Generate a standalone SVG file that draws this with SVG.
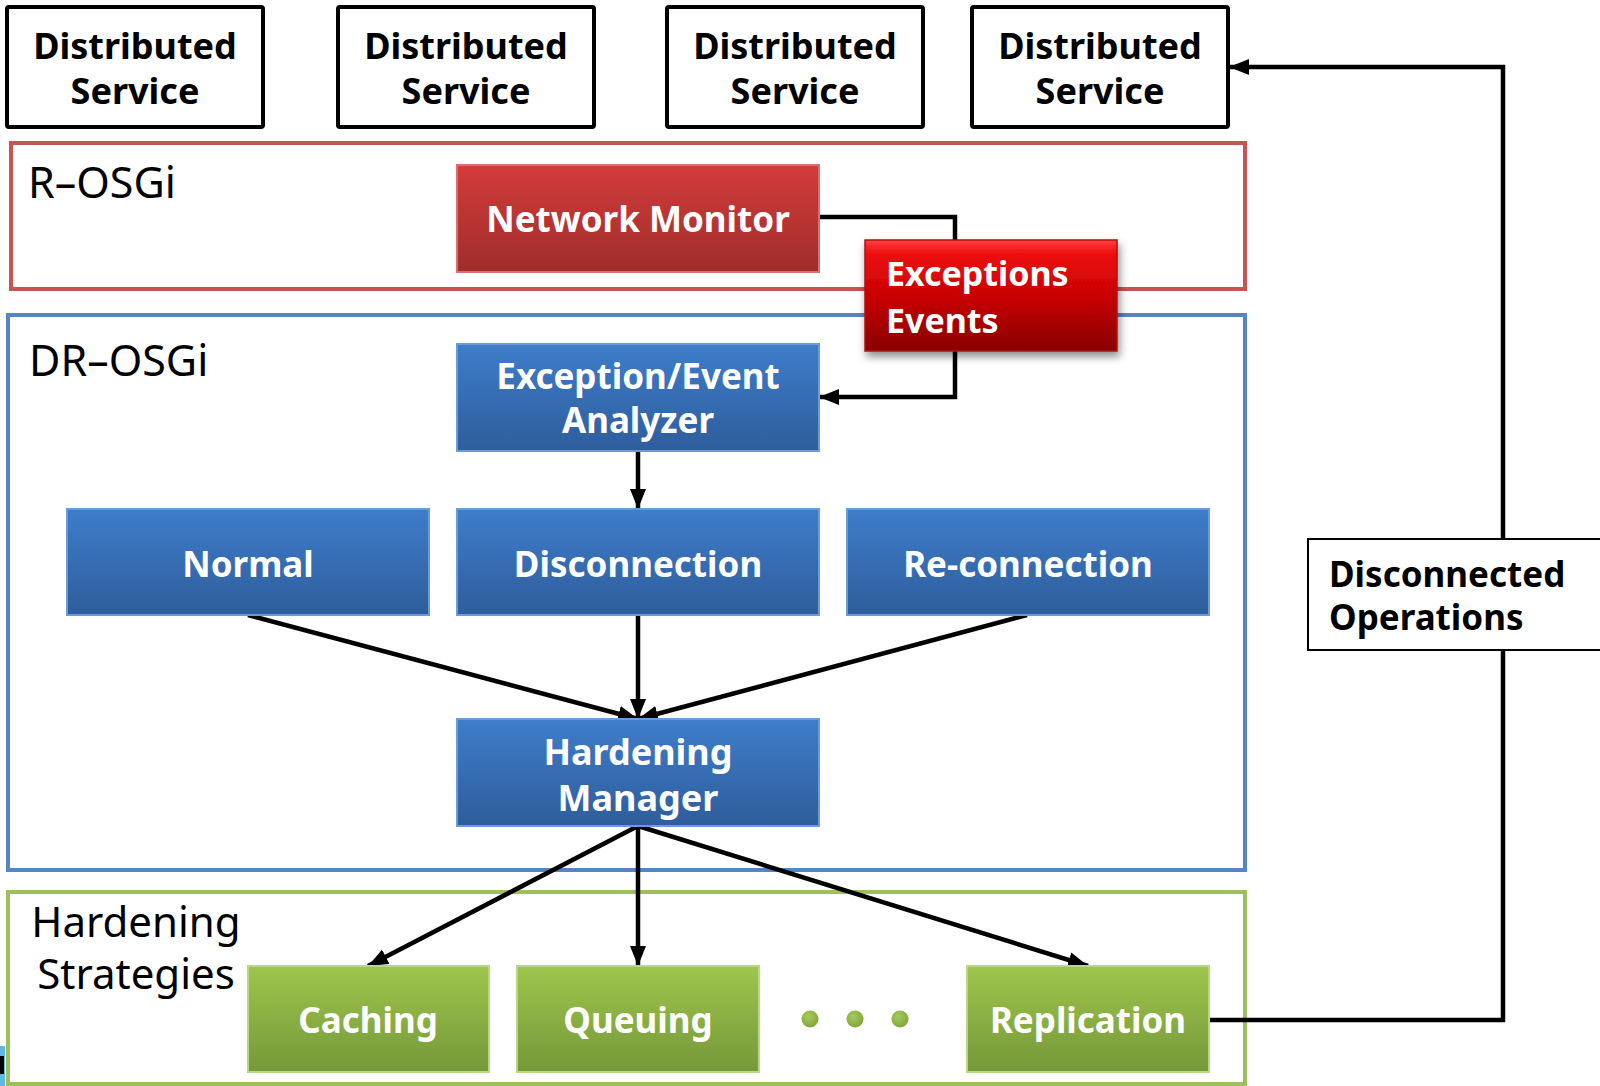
<svg xmlns="http://www.w3.org/2000/svg" width="1600" height="1086" viewBox="0 0 1600 1086">
  <defs>
    <linearGradient id="gBlue" x1="0" y1="0" x2="0" y2="1">
      <stop offset="0" stop-color="#3e7dcb"/>
      <stop offset="1" stop-color="#2e5d9b"/>
    </linearGradient>
    <linearGradient id="gRed" x1="0" y1="0" x2="0" y2="1">
      <stop offset="0" stop-color="#d33c3a"/>
      <stop offset="1" stop-color="#9f2d2b"/>
    </linearGradient>
    <linearGradient id="gExc" x1="0" y1="0" x2="0" y2="1">
      <stop offset="0" stop-color="#ff4040"/>
      <stop offset="0.12" stop-color="#ee0f0f"/>
      <stop offset="0.55" stop-color="#c40000"/>
      <stop offset="1" stop-color="#880000"/>
    </linearGradient>
    <linearGradient id="gGreen" x1="0" y1="0" x2="0" y2="1">
      <stop offset="0" stop-color="#9ec54b"/>
      <stop offset="1" stop-color="#76983a"/>
    </linearGradient>
    <radialGradient id="gDot" cx="0.4" cy="0.35" r="0.7">
      <stop offset="0" stop-color="#a6cb5c"/>
      <stop offset="1" stop-color="#7ea33a"/>
    </radialGradient>
    <filter id="shadow" x="-10%" y="-10%" width="130%" height="140%">
      <feDropShadow dx="2" dy="5" stdDeviation="4" flood-color="#000" flood-opacity="0.45"/>
    </filter>
    <marker id="arrow" viewBox="0 0 20 16" refX="20" refY="8" markerWidth="20" markerHeight="16" markerUnits="userSpaceOnUse" orient="auto">
      <path d="M0,0 L20,8 L0,16 z" fill="#000"/>
    </marker>
  </defs>
  <style>
    .svc { fill: #fff; stroke: #000; stroke-width: 4; }
    .svcTxt { font-family: "Noto Sans", "Liberation Sans", sans-serif; font-weight: 700; font-size: 36px; fill: #000; text-anchor: middle; }
    .layer { fill: #fff; stroke-width: 4; }
    .layerTxt { font-family: "Noto Sans", "Liberation Sans", sans-serif; font-size: 43px; fill: #000; }
    .layerMid { font-family: "Noto Sans", "Liberation Sans", sans-serif; font-size: 42px; fill: #000; text-anchor: middle; }
    .blue { fill: url(#gBlue); stroke: #6b9bd8; stroke-width: 2; }
    .green { fill: url(#gGreen); stroke: #b9d886; stroke-width: 2; }
    .nodeTxt { font-family: "Noto Sans", "Liberation Sans", sans-serif; font-weight: 700; font-size: 35px; fill: #fff; text-anchor: middle; }
    .excTxt { font-family: "Noto Sans", "Liberation Sans", sans-serif; font-weight: 700; font-size: 34px; fill: #fff; text-anchor: start; }
    .conn { fill: none; stroke: #000; stroke-width: 4.5; stroke-linejoin: miter; }
    .ops { fill: #fff; stroke: #000; stroke-width: 2; }
    .opsTxt { font-family: "Noto Sans", "Liberation Sans", sans-serif; font-weight: 700; font-size: 35px; fill: #000; }
  </style>

  <rect width="1600" height="1086" fill="#fff"/>

  <!-- layer containers -->
  <g id="r-osgi">
    <rect class="layer" x="11" y="143" width="1234" height="146" stroke="#c55552"/>
    <text class="layerTxt" x="28" y="198">R–OSGi</text>
  </g>
  <g id="dr-osgi">
    <rect class="layer" x="8" y="315" width="1237" height="555" stroke="#5585c2"/>
    <text class="layerTxt" x="29" y="376">DR–OSGi</text>
  </g>
  <g id="hardening-strategies">
    <rect class="layer" x="8" y="892" width="1237" height="192" stroke="#9dbf5c"/>
    <text class="layerMid" x="136" y="937">Hardening</text>
    <text class="layerMid" x="136" y="989">Strategies</text>
  </g>

  <!-- connectors -->
  <g id="connectors">
    <path class="conn" d="M819,217 H955 V242"/>
    <path class="conn" d="M955,349 V397 H819" marker-end="url(#arrow)"/>
    <path class="conn" d="M638,451 V509" marker-end="url(#arrow)"/>
    <path class="conn" d="M248,615 L638,719" marker-end="url(#arrow)"/>
    <path class="conn" d="M638,615 V719" marker-end="url(#arrow)"/>
    <path class="conn" d="M1027,615 L638,719" marker-end="url(#arrow)"/>
    <path class="conn" d="M638,826 L368,966" marker-end="url(#arrow)"/>
    <path class="conn" d="M638,826 V966" marker-end="url(#arrow)"/>
    <path class="conn" d="M638,826 L1088,966" marker-end="url(#arrow)"/>
    <path class="conn" d="M1209,1020 H1503 V67 H1229" marker-end="url(#arrow)"/>
  </g>

  <!-- distributed services -->
  <g id="service-1">
    <rect class="svc" x="7" y="7" width="256" height="120" rx="2"/>
    <text class="svcTxt" x="135" y="59">Distributed</text>
    <text class="svcTxt" x="135" y="104">Service</text>
  </g>
  <g id="service-2">
    <rect class="svc" x="338" y="7" width="256" height="120" rx="2"/>
    <text class="svcTxt" x="466" y="59">Distributed</text>
    <text class="svcTxt" x="466" y="104">Service</text>
  </g>
  <g id="service-3">
    <rect class="svc" x="667" y="7" width="256" height="120" rx="2"/>
    <text class="svcTxt" x="795" y="59">Distributed</text>
    <text class="svcTxt" x="795" y="104">Service</text>
  </g>
  <g id="service-4">
    <rect class="svc" x="972" y="7" width="256" height="120" rx="2"/>
    <text class="svcTxt" x="1100" y="59">Distributed</text>
    <text class="svcTxt" x="1100" y="104">Service</text>
  </g>

  <!-- R-OSGi components -->
  <g id="network-monitor">
    <rect x="457" y="165" width="362" height="107" fill="url(#gRed)" stroke="#d9706e" stroke-width="2"/>
    <text class="nodeTxt" x="638" y="232">Network Monitor</text>
  </g>
  <g id="exceptions-events">
    <rect x="865" y="240" width="252" height="111" fill="url(#gExc)" stroke="#b01010" stroke-width="1.5" filter="url(#shadow)"/>
    <text class="excTxt" x="886" y="286">Exceptions</text>
    <text class="excTxt" x="886" y="333">Events</text>
  </g>

  <!-- DR-OSGi components -->
  <g id="analyzer">
    <rect class="blue" x="457" y="344" width="362" height="107"/>
    <text class="nodeTxt" x="638" y="389">Exception/Event</text>
    <text class="nodeTxt" x="638" y="433">Analyzer</text>
  </g>
  <g id="normal">
    <rect class="blue" x="67" y="509" width="362" height="106"/>
    <text class="nodeTxt" x="248" y="577">Normal</text>
  </g>
  <g id="disconnection">
    <rect class="blue" x="457" y="509" width="362" height="106"/>
    <text class="nodeTxt" x="638" y="577">Disconnection</text>
  </g>
  <g id="reconnection">
    <rect class="blue" x="847" y="509" width="362" height="106"/>
    <text class="nodeTxt" x="1028" y="577">Re-connection</text>
  </g>
  <g id="hardening-manager">
    <rect class="blue" x="457" y="719" width="362" height="107"/>
    <text class="nodeTxt" x="638" y="765" style="font-size:36px">Hardening</text>
    <text class="nodeTxt" x="638" y="811" style="font-size:36px">Manager</text>
  </g>

  <!-- hardening strategies -->
  <g id="caching">
    <rect class="green" x="248" y="966" width="241" height="106"/>
    <text class="nodeTxt" x="368" y="1033">Caching</text>
  </g>
  <g id="queuing">
    <rect class="green" x="517" y="966" width="242" height="106"/>
    <text class="nodeTxt" x="638" y="1033">Queuing</text>
  </g>
  <g id="more-strategies">
    <circle cx="810" cy="1019" r="8.5" fill="url(#gDot)"/>
    <circle cx="855" cy="1019" r="8.5" fill="url(#gDot)"/>
    <circle cx="900" cy="1019" r="8.5" fill="url(#gDot)"/>
  </g>
  <g id="replication">
    <rect class="green" x="967" y="966" width="242" height="106"/>
    <text class="nodeTxt" x="1088" y="1033">Replication</text>
  </g>

  <!-- feedback label -->
  <g id="disconnected-operations">
    <rect class="ops" x="1308" y="539" width="300" height="111"/>
    <text class="opsTxt" x="1329" y="587">Disconnected</text>
    <text class="opsTxt" x="1329" y="630">Operations</text>
  </g>

  <!-- clipped edge fragment, bottom left -->
  <g id="edge-fragment">
    <rect x="0" y="1046" width="5" height="40" fill="#5fb8e0"/>
    <rect x="0" y="1056" width="4" height="18" fill="#000"/>
  </g>
</svg>
